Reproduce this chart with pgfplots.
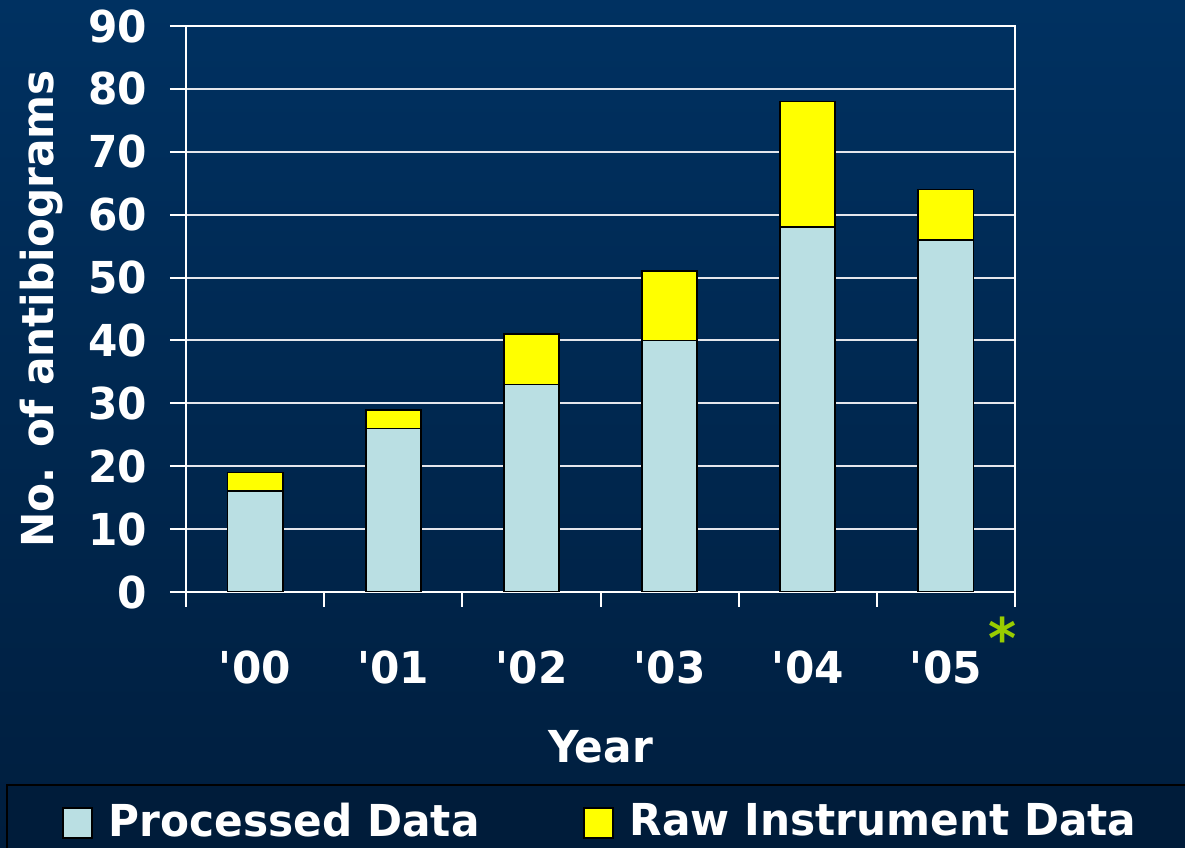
\documentclass[border=0pt]{standalone}
\usepackage{pgfplots}
\pgfplotsset{compat=1.18}
\usepackage{pgfplotstable}
\usepackage{fontspec}
\setmainfont{DejaVu Sans}[FakeStretch=0.96]

\definecolor{bgtop}{RGB}{0,49,97}
\definecolor{bgbot}{RGB}{0,30,62}
\definecolor{legbg}{RGB}{0,28,58}
\definecolor{procblue}{RGB}{186,223,227}
\definecolor{rawyellow}{RGB}{255,255,0}
\definecolor{gridgray}{RGB}{228,230,236}
\definecolor{stargreen}{RGB}{153,204,0}

% antibiograms per year: processed data and raw instrument data
\pgfplotstableread{
x proc raw
0 16 3
1 26 3
2 33 8
3 40 11
4 58 20
5 56 8
}\antibiograms

\pgfplotsset{
  sqlegend/.style={legend image code/.code={\draw[##1,line width=1.8bp] (0bp,-17bp) rectangle (29bp,13bp);}},
}

\newcommand{\bigfont}{\fontsize{44bp}{52bp}\selectfont\bfseries}

\begin{document}
\begin{tikzpicture}[x=1bp,y=1bp]
\shade[top color=bgtop, bottom color=bgbot] (0,0) rectangle (1185,848);
\path[use as bounding box] (0,0) rectangle (1185,848);
% legend panel
\filldraw[fill=legbg, draw=black, line width=2bp] (7,-5) rectangle (1195,63);

\begin{axis}[
  at={(186bp,256bp)}, anchor=south west,
  scale only axis, width=829bp, height=566bp,
  ybar stacked, bar width=0.4,
  xmin=-0.5, xmax=5.5, ymin=0, ymax=90,
  xtick={0,...,5},
  xticklabels={{\textquotesingle00},{\textquotesingle01},{\textquotesingle02},{\textquotesingle03},{\textquotesingle04},{\textquotesingle05}},
  minor xtick={-0.5,0.5,...,5.5},
  major x tick style={draw=none},
  ytick={0,10,...,90},
  ymajorgrids,
  tick pos=left,
  tick align=outside,
  major tick length=16bp, minor tick length=15bp,
  tick style={white, line width=2bp},
  axis line style={white, line width=2bp},
  grid style={gridgray, line width=2bp},
  /pgf/number format/assume math mode=true,
  tick label style={font=\bigfont, text=white, inner sep=0pt},
  yticklabel shift=23bp,
  xticklabel style={anchor=base},
  xticklabel shift=76bp,
  label style={font=\bigfont, text=white, inner sep=0pt},
  xlabel={Year},
  xlabel style={at={(rel axis cs:0.5,-0.3021)}, anchor=base},
  ylabel={No. of antibiograms},
  ylabel style={at={(rel axis cs:-0.1604,0.5)}, anchor=base},
  legend columns=2,
  legend style={at={(rel axis cs:-0.1496,-0.4044)}, anchor=west,
    draw=none, fill=none, inner sep=0pt, font=\bigfont, text=white,
    nodes={inner sep=0pt},
    /tikz/every odd column/.append style={column sep=16bp}},
]
\addplot[fill=procblue, draw=black, line width=1.8bp, sqlegend] table[x=x, y=proc]{\antibiograms};
\addlegendentry{\makebox[474bp][l]{Processed Data}}
\addplot[fill=rawyellow, draw=black, line width=1.8bp, sqlegend] table[x=x, y=raw]{\antibiograms};
\addlegendentry{Raw Instrument Data}
\end{axis}

\node[anchor=base, text=stargreen, font=\fontsize{56bp}{60bp}\selectfont\bfseries, inner sep=0pt] at (1003,189) {*};
\end{tikzpicture}
\end{document}
